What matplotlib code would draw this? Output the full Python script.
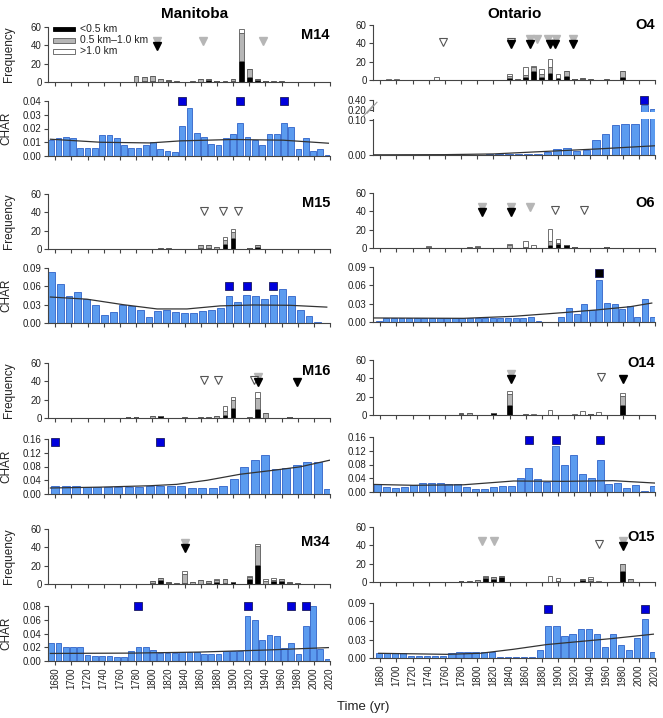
import numpy as np
import matplotlib.pyplot as plt
from matplotlib.patches import Rectangle

plt.rcParams['font.family'] = ['Liberation Sans', 'DejaVu Sans']

# ---------------- data ----------------
# fire frequency per decade, split by distance: <0.5 km, 0.5-1.0 km, >1.0 km
m14_dec = [1780, 1790, 1800, 1810, 1820, 1830, 1850, 1860, 1870, 1880, 1890, 1900, 1910, 1920, 1930, 1940, 1950, 1960]
m14_blk = [0, 1, 1, 0, 1, 0, 0, 0, 2, 1, 0, 1, 23, 5, 2, 1, 0, 0]
m14_gry = [7, 5, 6, 3.5, 0.8, 0.6, 0.6, 3.5, 1, 0, 1, 2.5, 30, 9, 1, 0, 0.6, 1.5]
m14_wht = [0, 0, 0, 0, 0, 0, 0, 0, 0, 0, 0, 0, 5, 0.5, 0, 0, 0, 0]
m14_tri_b = [1806]
m14_tri_g = [1806, 1863, 1937]
m14_tri_w = []
m14_char = [0.012, 0.013, 0.014, 0.013, 0.006, 0.006, 0.006, 0.015, 0.015, 0.013,
            0.008, 0.006, 0.006, 0.008, 0.010, 0.005, 0.004, 0.003, 0.022, 0.035,
            0.017, 0.014, 0.009, 0.008, 0.013, 0.016, 0.024, 0.014, 0.012, 0.008,
            0.016, 0.016, 0.024, 0.021, 0.005, 0.013, 0.004, 0.005, 0.001]
m14_peaks = [1837, 1909, 1963]
m14_bg_yr = [1674, 1736, 1797, 1835, 1900, 1962, 2018]
m14_bg = [0.0122, 0.0100, 0.0095, 0.011, 0.012, 0.0115, 0.0093]

m15_dec = [1810, 1820, 1860, 1870, 1880, 1890, 1900, 1920, 1930]
m15_blk = [0, 0, 1, 1, 0, 6, 12, 1, 2]
m15_gry = [0.6, 0.6, 3, 3, 2, 4, 7, 0, 2]
m15_wht = [0, 0, 0, 0, 0, 3, 3, 0, 0]
m15_tri_b = []
m15_tri_g = []
m15_tri_w = [1864, 1887, 1906]
m15_char = [0.083, 0.064, 0.045, 0.050, 0.040, 0.030, 0.0125, 0.018, 0.029, 0.028,
            0.022, 0.010, 0.020, 0.021, 0.0175, 0.017, 0.017, 0.020, 0.021, 0.0245,
            0.045, 0.035, 0.046, 0.045, 0.040, 0.046, 0.055, 0.044, 0.022, 0.011, 0.0015]
m15_peaks = [1895, 1917, 1950]
m15_bg_yr = [1674, 1719, 1764, 1806, 1843, 1884, 1925, 1970, 2016]
m15_bg = [0.0425, 0.039, 0.030, 0.023, 0.023, 0.028, 0.0295, 0.029, 0.026]

m16_dec = [1770, 1780, 1800, 1810, 1840, 1860, 1870, 1880, 1890, 1900, 1920, 1930, 1940, 1970]
m16_blk = [1, 1, 0, 2, 0, 0, 0, 0, 3, 11, 0, 10, 0, 0.6]
m16_gry = [0, 0, 2, 0.5, 0.6, 0.6, 0.6, 2, 5, 9, 0.6, 12, 5, 0]
m16_wht = [0, 0, 0, 0, 0, 0, 0, 0, 5, 3, 0, 6, 1, 0]
m16_tri_b = [1931, 1979]
m16_tri_g = [1931]
m16_tri_w = [1864, 1882, 1926]
m16_char = [0.023, 0.023, 0.023, 0.021, 0.021, 0.021, 0.021, 0.021, 0.0215, 0.023,
            0.024, 0.023, 0.023, 0.0175, 0.0165, 0.0165, 0.024, 0.043, 0.079, 0.0985,
            0.114, 0.074, 0.077, 0.083, 0.094, 0.093, 0.016]
m16_peaks = [1680, 1810]
m16_bg_yr = [1674, 1736, 1797, 1830, 1868, 1909, 1950, 1983, 2020]
m16_bg = [0.0175, 0.020, 0.024, 0.028, 0.040, 0.0575, 0.069, 0.079, 0.0985]

m34_dec = [1800, 1810, 1820, 1830, 1840, 1850, 1860, 1870, 1880, 1890, 1900, 1920, 1930, 1940, 1950, 1960, 1970, 1980]
m34_blk = [1, 4, 1, 0, 1, 0, 0, 1, 2, 1, 2, 5, 21, 0, 3, 3, 1, 0]
m34_gry = [2, 3, 1, 1, 10, 2, 4, 2, 2, 4, 0, 3, 21, 3, 1, 2, 1, 1]
m34_wht = [0, 0, 0, 0, 3, 0, 0, 0, 2, 0, 0, 0.5, 2, 3, 3, 0, 0, 0]
m34_tri_b = [1840]
m34_tri_g = [1840]
m34_tri_w = []
m34_char = [0.0265, 0.0255, 0.020, 0.020, 0.020, 0.009, 0.008, 0.008, 0.007, 0.0065,
            0.0065, 0.014, 0.020, 0.020, 0.016, 0.011, 0.011, 0.012, 0.0125, 0.0125,
            0.0125, 0.010, 0.010, 0.010, 0.015, 0.015, 0.015, 0.066, 0.060, 0.030,
            0.038, 0.037, 0.019, 0.026, 0.010, 0.051, 0.080, 0.018, 0.0035]
m34_peaks = [1783, 1918, 1972, 1990]
m34_bg_yr = [1674, 1777, 1859, 1942, 2018]
m34_bg = [0.011, 0.0115, 0.013, 0.016, 0.0195]

o4_dec = [1690, 1700, 1750, 1780, 1800, 1820, 1840, 1850, 1860, 1870, 1880, 1890, 1900, 1910,
          1920, 1930, 1940, 1950, 1960, 1970, 1980]
o4_blk = [0, 0, 0, 0.4, 0.4, 0.4, 2, 0, 3, 10, 3, 8, 2, 4, 1, 1, 0.5, 0.5, 0.5, 0.5, 3]
o4_gry = [0, 0, 0, 0, 0, 0, 2, 1.5, 3, 4, 4, 6, 0, 6, 0, 1.5, 0.5, 0, 0.5, 0, 7]
o4_wht = [1, 1, 3, 0, 0, 0, 3, 0, 8, 1, 5, 9, 5, 0, 0, 0, 0, 0, 0, 0, 0]
o4_tri_b = [1842, 1865, 1890, 1896, 1919]
o4_tri_g = [1865, 1874, 1888, 1898, 1919]
o4_tri_w = [1758, 1842]
o4_char = [0.0005, 0.0005, 0.0005, 0.0005, 0.0005, 0.0005, 0.0005, 0.0005, 0.0005, 0.001,
           0.001, 0.0015, 0.002, 0.002, 0.002, 0.003, 0.004, 0.008, 0.018, 0.019,
           0.012, 0.013, 0.043, 0.058, 0.084, 0.087, 0.087, 0.30, 0.23]
o4_peaks = [2007]
o4_bg_yr = [1672, 1760, 1820, 1865, 1948, 2020]
o4_bg = [0.0005, 0.001, 0.003, 0.008, 0.017, 0.026]

o6_dec = [1740, 1750, 1760, 1770, 1780, 1790, 1800, 1810, 1840, 1860, 1870, 1890, 1900, 1910,
          1920, 1930, 1940, 1950, 1960]
o6_blk = [0, 0, 0.5, 0, 0.5, 0, 0, 0, 0.5, 0.5, 0, 3, 4, 3, 1, 0, 0, 0, 1]
o6_gry = [1.5, 0.5, 0, 0.5, 0, 1, 1, 0.5, 3, 1, 0, 5, 1, 0, 0, 0.5, 0.5, 0.5, 0]
o6_wht = [0.5, 0, 0, 0, 0, 0, 1.5, 0, 1, 6.5, 3, 12.5, 5, 0, 0, 0, 0, 0, 0]
o6_tri_b = [1806, 1842]
o6_tri_g = [1806, 1842, 1865]
o6_tri_w = [1896, 1932]
o6_char = [0.002, 0.006, 0.006, 0.006, 0.006, 0.006, 0.006, 0.006, 0.006, 0.006,
           0.006, 0.006, 0.006, 0.006, 0.006, 0.006, 0.006, 0.006, 0.006, 0.007,
           0.009, 0.001, 0.0005, 0.0005, 0.0077, 0.023, 0.013, 0.030, 0.020, 0.068,
           0.031, 0.029, 0.021, 0.026, 0.009, 0.038, 0.0077]
o6_peaks = [1951]
o6_bg_yr = [1672, 1783, 1845, 1907, 1948, 1989, 2016]
o6_bg = [0.0066, 0.006, 0.0093, 0.0154, 0.0198, 0.025, 0.031]

o14_dec = [1760, 1780, 1790, 1800, 1820, 1840, 1850, 1860, 1870, 1880, 1890, 1920, 1930, 1940,
           1950, 1970, 1980]
o14_blk = [0, 1, 0, 0, 2, 11, 0.5, 0, 0, 0, 0, 0, 0, 1.5, 0, 0, 11]
o14_gry = [0.5, 1, 2, 0.5, 0, 12, 0, 1.5, 0, 0.5, 0, 0, 0, 0, 0, 0.5, 10]
o14_wht = [0, 0, 0, 0, 0, 3, 0, 0, 1, 0, 5, 1.5, 4, 0, 3, 0, 3]
o14_tri_b = [1842, 1981]
o14_tri_g = [1842]
o14_tri_w = [1953]
o14_char = [0.022, 0.016, 0.013, 0.014, 0.020, 0.027, 0.027, 0.025, 0.024, 0.023,
            0.016, 0.010, 0.009, 0.014, 0.0175, 0.0175, 0.040, 0.071, 0.039, 0.030,
            0.135, 0.079, 0.109, 0.052, 0.042, 0.094, 0.024, 0.026, 0.013, 0.020,
            0.003, 0.0175]
o14_peaks = [1864, 1897, 1952]
o14_bg_yr = [1672, 1721, 1783, 1845, 1907, 1968, 2020]
o14_bg = [0.022, 0.0195, 0.021, 0.032, 0.031, 0.033, 0.026]

o15_dec = [1770, 1780, 1790, 1800, 1810, 1820, 1830, 1840, 1880, 1890, 1900, 1910, 1920, 1930,
           1940, 1950, 1980, 1990]
o15_blk = [0.5, 1, 0, 0, 4, 3, 5, 0.5, 0.5, 0, 1, 0.5, 0.5, 2, 1, 0, 12, 0]
o15_gry = [0, 0, 1.5, 2, 2, 3, 2, 0, 0, 0, 0, 0, 0, 1, 2, 0, 8, 3]
o15_wht = [0, 0, 0, 0, 0, 0, 0, 0, 0, 7, 3, 0, 0, 0, 2, 1.5, 0, 0]
o15_tri_b = [1980]
o15_tri_g = [1806, 1821, 1980]
o15_tri_w = [1951]
o15_char = [0.0077, 0.0077, 0.0077, 0.0077, 0.003, 0.003, 0.003, 0.003, 0.003, 0.008,
            0.0099, 0.0099, 0.0099, 0.0099, 0.0099, 0.002, 0.002, 0.002, 0.002, 0.002,
            0.013, 0.053, 0.052, 0.036, 0.040, 0.048, 0.047, 0.040, 0.0176, 0.040,
            0.022, 0.0137, 0.032, 0.064, 0.0093]
o15_peaks = [1888, 2008]
o15_bg_yr = [1678, 1762, 1804, 1845, 1886, 1927, 1968, 2018]
o15_bg = [0.0077, 0.006, 0.0077, 0.0143, 0.022, 0.027, 0.032, 0.039]

# ---------------- colours ----------------
BAR_BLUE = '#5b9bef'
BAR_EDGE = '#2f62c8'
PEAK = '#0000dd'
GRAY = '#b6b6b6'
AXC = '#444444'

# site table: name, freq data, char data, bin start/step, peak y, peak colour, char yticks, label y
sites = [
    ('M14', m14_dec, m14_blk, m14_gry, m14_wht, m14_tri_b, m14_tri_g, m14_tri_w,
     m14_char, 1675, 9, m14_peaks, 0.04, PEAK, m14_bg_yr, m14_bg, [0, 0.01, 0.02, 0.03, 0.04], 0.85),
    ('M15', m15_dec, m15_blk, m15_gry, m15_wht, m15_tri_b, m15_tri_g, m15_tri_w,
     m15_char, 1675, 11, m15_peaks, 0.06, PEAK, m15_bg_yr, m15_bg, [0, 0.03, 0.06, 0.09], 0.84),
    ('M16', m16_dec, m16_blk, m16_gry, m16_wht, m16_tri_b, m16_tri_g, m16_tri_w,
     m16_char, 1680, 13, m16_peaks, 0.15, PEAK, m16_bg_yr, m16_bg, [0, 0.04, 0.08, 0.12, 0.16], 0.85),
    ('M34', m34_dec, m34_blk, m34_gry, m34_wht, m34_tri_b, m34_tri_g, m34_tri_w,
     m34_char, 1675, 9, m34_peaks, 0.08, PEAK, m34_bg_yr, m34_bg, [0, 0.02, 0.04, 0.06, 0.08], 0.76),
    ('O4', o4_dec, o4_blk, o4_gry, o4_wht, o4_tri_b, o4_tri_g, o4_tri_w,
     o4_char, 1683, 12, o4_peaks, 0.40, PEAK, o4_bg_yr, o4_bg, [0, 0.10, 0.20, 0.40], 1.0),
    ('O6', o6_dec, o6_blk, o6_gry, o6_wht, o6_tri_b, o6_tri_g, o6_tri_w,
     o6_char, 1678, 9.42, o6_peaks, 0.08, '#000000', o6_bg_yr, o6_bg, [0, 0.03, 0.06, 0.09], 0.81),
    ('O14', o14_dec, o14_blk, o14_gry, o14_wht, o14_tri_b, o14_tri_g, o14_tri_w,
     o14_char, 1677, 11, o14_peaks, 0.15, PEAK, o14_bg_yr, o14_bg, [0, 0.04, 0.08, 0.12, 0.16], 0.94),
    ('O15', o15_dec, o15_blk, o15_gry, o15_wht, o15_tri_b, o15_tri_g, o15_tri_w,
     o15_char, 1678, 10, o15_peaks, 0.08, PEAK, o15_bg_yr, o15_bg, [0, 0.03, 0.06, 0.09], 0.81),
]

# layout in pixels (top edge of each axes), figure is 663 x 718
W, H = 663, 718
col_left = [48, 373]
col_w = 282
freq_top = [[27, 194, 363, 529], [25, 193, 360, 527]]
char_top = [[101, 268, 439, 606], [100, 267, 437, 603]]
ax_h = 55

fig = plt.figure(figsize=(W / 100, H / 100), dpi=100)


def add_ax(left, top):
    return fig.add_axes([left / W, 1 - (top + ax_h) / H, col_w / W, ax_h / H])


def style(ax, show_x):
    for s in ['top', 'right']:
        ax.spines[s].set_visible(False)
    for s in ['left', 'bottom']:
        ax.spines[s].set_color(AXC)
        ax.spines[s].set_linewidth(0.8)
    ax.set_xlim(1671, 2020)
    ax.set_xticks(range(1680, 2021, 20))
    ax.tick_params(direction='out', length=3, width=0.8, color=AXC,
                   labelsize=7, labelcolor='#222222', pad=1.5)
    if show_x:
        ax.set_xticklabels([str(y) for y in range(1680, 2021, 20)], rotation=90)
    else:
        ax.tick_params(labelbottom=False)


for i, site in enumerate(sites):
    (name, dec, blk, gry, wht, tri_b, tri_g, tri_w, char, start, step, peaks, peak_y,
     peak_c, bg_yr, bg, cticks, lab_y) = site
    col = i // 4
    row = i % 4

    # ---- frequency panel ----
    ax = add_ax(col_left[col], freq_top[col][row])
    blk_a = np.array(blk, dtype=float)
    gry_a = np.array(gry, dtype=float)
    ax.bar(dec, blk, width=6, color='black', edgecolor='black', linewidth=0.5, zorder=2)
    ax.bar(dec, gry, width=6, bottom=blk_a, color=GRAY, edgecolor='#5a5a5a', linewidth=0.6, zorder=2)
    ax.bar(dec, wht, width=6, bottom=blk_a + gry_a, color='white', edgecolor='#5a5a5a',
           linewidth=0.6, zorder=2)
    ax.plot(tri_g, [45] * len(tri_g), 'v', ms=5.5, color=GRAY, mec=GRAY, zorder=3)
    ax.plot(tri_b, [39] * len(tri_b), 'v', ms=5.5, color='black', mec='black', zorder=4)
    ax.plot(tri_w, [41] * len(tri_w), 'v', ms=5.5, color='white', mec='#555555', mew=0.8, zorder=3)
    ax.set_ylim(0, 60)
    ax.set_yticks([0, 20, 40, 60])
    style(ax, False)
    ax.text(1.0, lab_y, name, transform=ax.transAxes, ha='right', va='center',
            fontsize=10.5, fontweight='bold')
    if col == 0:
        ax.set_ylabel('Frequency', fontsize=8.5, color='#222222')
        ax.yaxis.set_label_coords(-0.118, 0.5)

    if name == 'M14':
        legend_items = [('black', 'black', '<0.5 km'), (GRAY, '#5a5a5a', '0.5 km\u20131.0 km'),
                        ('white', '#5a5a5a', '>1.0 km')]
        for k, (fc, ec, txt) in enumerate(legend_items):
            yc = [0.964, 0.755, 0.555][k]
            ax.add_patch(Rectangle((0.018, yc - 0.045), 0.078, 0.09, transform=ax.transAxes,
                                   facecolor=fc, edgecolor=ec, linewidth=0.6, clip_on=False))
            ax.text(0.113, yc, txt, transform=ax.transAxes, va='center', fontsize=7.5,
                    color='#222222')

    # ---- CHAR panel ----
    ax2 = add_ax(col_left[col], char_top[col][row])
    yrs = start + step * np.arange(len(char))
    if name == 'O4':
        fwd = lambda v: np.interp(v, [0, 0.1, 0.2, 0.4], [0, 0.645, 0.816, 1.0])
        inv = lambda v: np.interp(v, [0, 0.645, 0.816, 1.0], [0, 0.1, 0.2, 0.4])
        ax2.set_yscale('function', functions=(fwd, inv))
    ax2.bar(yrs, char, width=0.78 * step, color=BAR_BLUE, edgecolor=BAR_EDGE, linewidth=0.6, zorder=2)
    ax2.plot(bg_yr, bg, color='#333333', lw=0.9, zorder=3)
    ax2.plot(peaks, [peak_y] * len(peaks), 's', ms=6, color=peak_c, mec='#1a1a60',
             mew=0.6, zorder=5, clip_on=False)
    ax2.set_ylim(0, cticks[-1])
    ax2.set_yticks(cticks)
    ax2.set_yticklabels(['%.2f' % t for t in cticks])
    style(ax2, row == 3)
    if col == 0:
        ax2.set_ylabel('CHAR', fontsize=8.5, color='#222222')
        ax2.yaxis.set_label_coords(-0.128, 0.5)
    if name == 'O4':
        # broken axis between 0.10 and 0.20
        ax2.axhspan(0.106, 0.185, facecolor='white', edgecolor='none', zorder=4)
        ax2.spines['left'].set_bounds(0, 0.105)
        tr = ax2.get_yaxis_transform()
        ax2.plot([0, 0], [0.19, 0.40], color=AXC, lw=0.8, transform=tr, clip_on=False)
        for dx, dy in [(0, 0), (0.014, 0.06)]:
            ax2.plot([-0.035 + dx, 0.0 + dx], [0.70 + dy, 0.90 + dy], color='#999999', lw=0.8,
                     transform=ax2.transAxes, clip_on=False)

fig.text(195 / W, 1 - 14 / H, 'Manitoba', ha='center', va='center', fontsize=11, fontweight='bold')
fig.text(515 / W, 1 - 14 / H, 'Ontario', ha='center', va='center', fontsize=11, fontweight='bold')
fig.text(337 / W, 1 - 707 / H, 'Time (yr)', ha='left', va='center', fontsize=9.5, color='#222222')

fig.savefig('out.png', dpi=100)
